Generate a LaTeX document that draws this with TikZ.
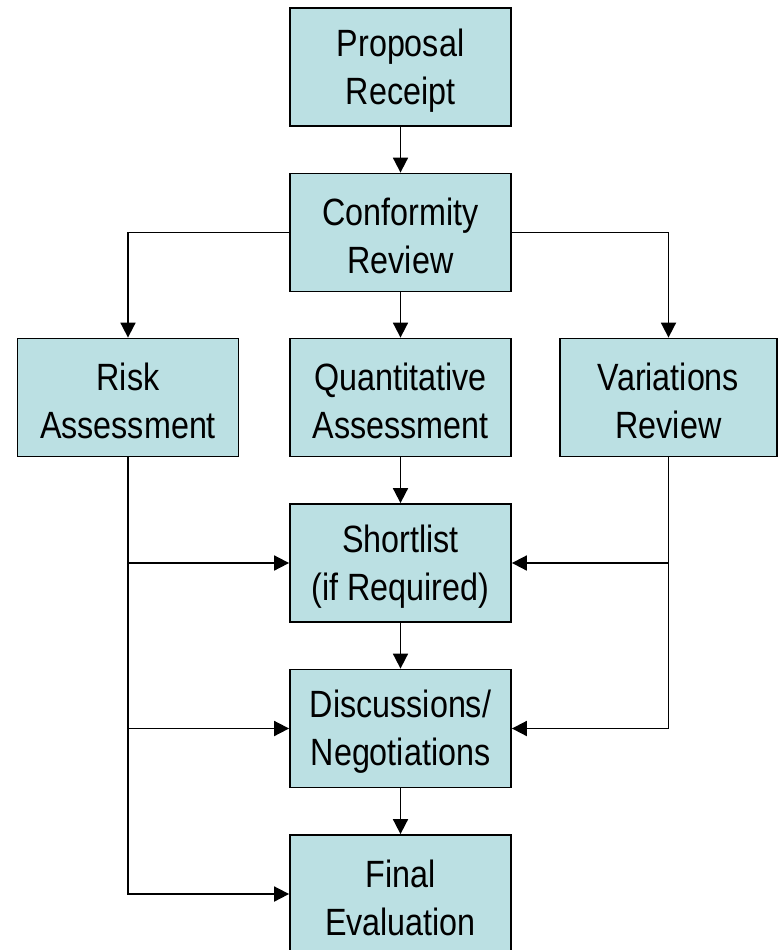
\documentclass[tikz,border=0pt]{standalone}
\usepackage{fontspec}
\setmainfont{Liberation Sans}[FakeStretch=0.85]
\usetikzlibrary{arrows.meta}
\definecolor{boxfill}{HTML}{BBE0E3}
\begin{document}
\begin{tikzpicture}[x=1pt,y=-1pt,
  boxtext/.style={inner sep=0pt, align=center, font=\fontsize{38}{48}\selectfont, yshift=-3.5pt},
  box/.style={draw=black, line width=1.8pt, fill=boxfill, minimum width=221pt, minimum height=118pt,
    inner sep=0pt, label={[boxtext]center:#1}},
  conn/.style={line width=1.8pt, -{Triangle[length=15pt,width=15pt]}}]
\useasboundingbox (0,0) rectangle (778,950);
\clip (0,0) rectangle (778,950);
\node[box={Proposal\\Receipt}] (prop) at (400.5,67) {};
\node[box={Conformity\\Review}] (conf) at (400.5,232.5) {};
\node[box={Risk\\Assessment}] (risk) at (128,397.5) {};
\node[box={Quantitative\\Assessment}] (quant) at (400.5,397.5) {};
\node[box={Variations\\Review}, minimum width=217pt] (var) at (668.5,397.5) {};
\node[box={Shortlist\\(if Required)}] (short) at (400.5,563) {};
\node[box={Discussions/\\Negotiations}] (disc) at (400.5,728.5) {};
\node[box={Final\\Evaluation}] (final) at (400.5,894) {};
\draw[conn] (prop) -- (conf);
\draw[conn] (conf) -- (quant);
\draw[conn] (conf.west) -| (risk.north);
\draw[conn] (conf.east) -| (var.north);
\draw[conn] (quant) -- (short);
\draw[conn] (short) -- (disc);
\draw[conn] (disc) -- (final);
\draw[conn] (risk.south) |- (final.west);
\draw[conn] (risk.south |- short.west) -- (short.west);
\draw[conn] (risk.south |- disc.west) -- (disc.west);
\draw[conn] (var.south) |- (disc.east);
\draw[conn] (var.south |- short.east) -- (short.east);
\end{tikzpicture}
\end{document}
